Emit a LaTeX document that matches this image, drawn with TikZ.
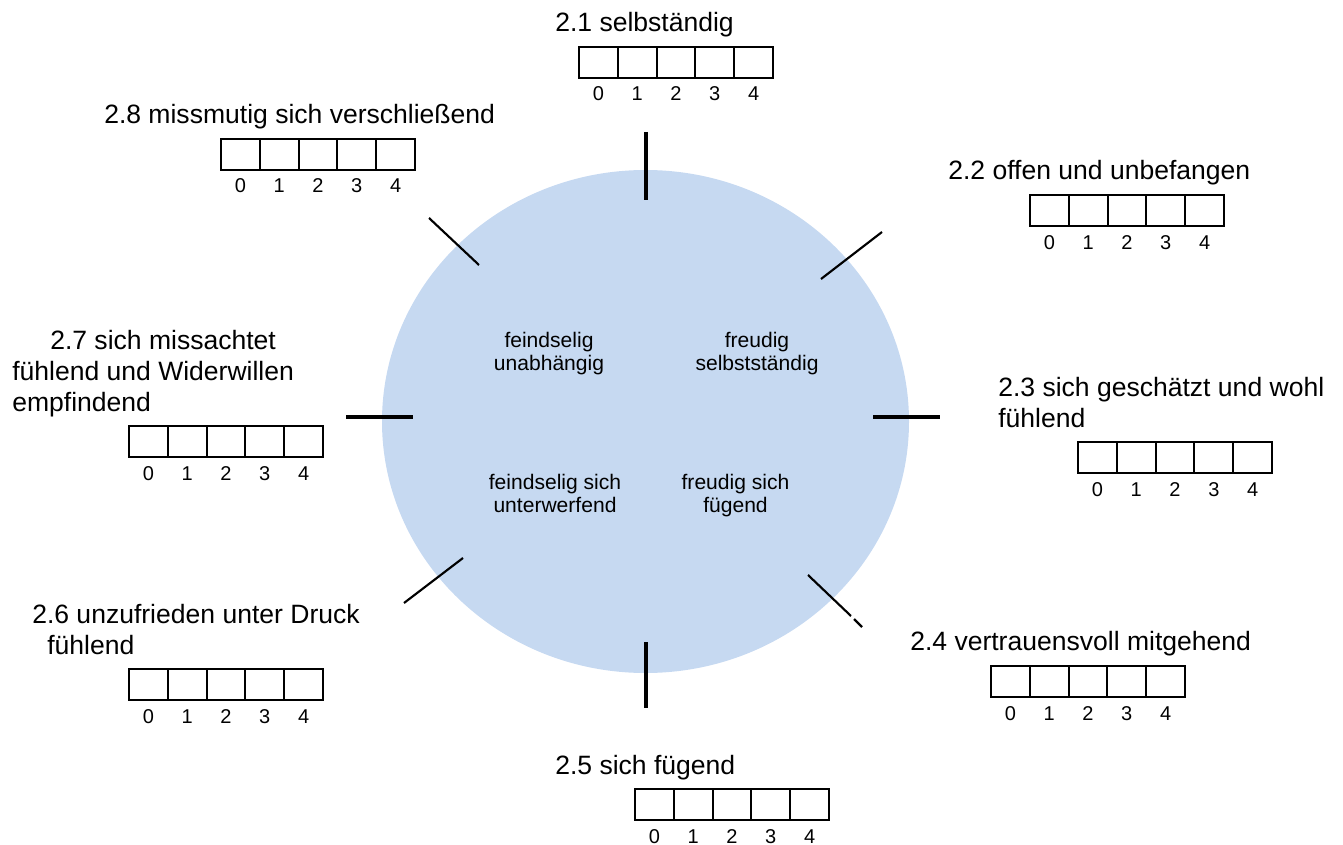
\documentclass[tikz,border=0pt]{standalone}
\usepackage{fontspec}
\setmainfont{Liberation Sans}
\usetikzlibrary{shapes.geometric}
\definecolor{circblue}{HTML}{C6D9F1}
\newcommand\rbox[3]{%
  \foreach \i in {0,...,4} {
    \node[cell] (#1-\i) at ({#2+19.4+38.8*\i},{#3+15.5}) {};
    \node[num] (#1-n\i) at ({#2+19.4+38.8*\i},{#3+54}) {\i};
  }%
}
\begin{document}
\begin{tikzpicture}[x=0.75pt,y=-0.75pt,
  lab/.style={anchor=base west, inner sep=0, font=\fontsize{19.9}{23}\selectfont},
  inn/.style={anchor=base, inner sep=0, font=\fontsize{15.8}{18}\selectfont},
  num/.style={anchor=base, inner sep=0, font=\fontsize{15}{17}\selectfont},
  cell/.style={draw, line width=1.5pt, minimum width=29.1pt, minimum height=23.25pt, inner sep=0},
  tickline/.style={line width=2.4pt},
  diagline/.style={line width=1.6pt}]
\useasboundingbox (0,0) rectangle (1343,845);

% circle
\node[ellipse, fill=circblue, draw=none, minimum width=395.25pt, minimum height=377.25pt, inner sep=0] (circ) at (645.5,421.5) {};

% inner texts
\node[inn] (q1a) at (549,347) {feindselig};
\node[inn] (q1b) at (549,370) {unabhängig};
\node[inn] (q2a) at (757,347) {freudig};
\node[inn] (q2b) at (757,370) {selbstständig};
\node[inn] (q3a) at (555,489) {feindselig sich};
\node[inn] (q3b) at (555,512) {unterwerfend};
\node[inn] (q4a) at (735.5,489) {freudig sich};
\node[inn] (q4b) at (735.5,512) {fügend};

% ticks
\coordinate (t1a) at (646,132); \coordinate (t1b) at (646,200);
\coordinate (t2a) at (882,232); \coordinate (t2b) at (821,279);
\coordinate (t3a) at (873,417); \coordinate (t3b) at (940,417);
\coordinate (t4a) at (808,575); \coordinate (t4m) at (851,616); \coordinate (t4n) at (854,619); \coordinate (t4b) at (862,627);
\coordinate (t5a) at (646,642); \coordinate (t5b) at (646,708);
\coordinate (t6a) at (404,603); \coordinate (t6b) at (463,558);
\coordinate (t7a) at (346,417); \coordinate (t7b) at (413,417);
\coordinate (t8a) at (429,218); \coordinate (t8b) at (479,265);
\draw[tickline] (t1a) -- (t1b);
\draw[diagline] (t2a) -- (t2b);
\draw[tickline] (t3a) -- (t3b);
\draw[diagline] (t4a) -- (t4m) (t4n) -- (t4b);
\draw[tickline] (t5a) -- (t5b);
\draw[diagline] (t6a) -- (t6b);
\draw[tickline] (t7a) -- (t7b);
\draw[diagline] (t8a) -- (t8b);

% labels
\node[lab] (l1) at (555,32) {2.1 selbständig};
\node[lab] (l8) at (104,124) {2.8 missmutig sich verschließend};
\node[lab] (l2) at (948,180) {2.2 offen und unbefangen};
\node[lab] (l7a) at (50,349) {2.7 sich missachtet};
\node[lab] (l7b) at (12,380) {fühlend und Widerwillen};
\node[lab] (l7c) at (12,411) {empfindend};
\node[lab] (l3a) at (998,396) {2.3 sich geschätzt und wohl};
\node[lab] (l3b) at (998,427) {fühlend};
\node[lab] (l6a) at (32,623) {2.6 unzufrieden unter Druck};
\node[lab] (l6b) at (47,654) {fühlend};
\node[lab] (l4) at (910,650) {2.4 vertrauensvoll mitgehend};
\node[lab] (l5) at (555,774) {2.5 sich fügend};

% rating boxes
\rbox{b1}{579}{47}
\rbox{b8}{221}{139}
\rbox{b2}{1030}{195}
\rbox{b7}{129}{426}
\rbox{b3}{1078}{442}
\rbox{b6}{129}{669}
\rbox{b4}{991}{666}
\rbox{b5}{635}{789}
\end{tikzpicture}
\end{document}
